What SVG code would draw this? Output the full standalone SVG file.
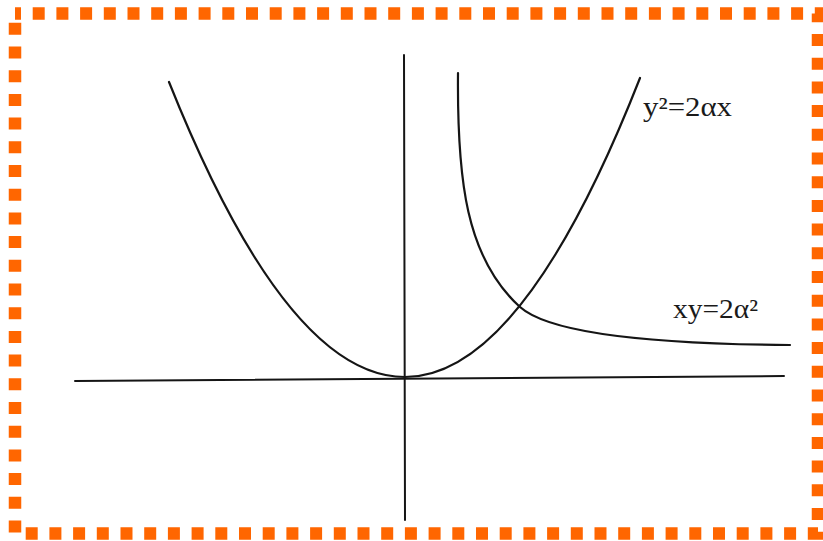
<svg xmlns="http://www.w3.org/2000/svg" width="823" height="541" viewBox="0 0 823 541">
  <style>
    .frame { fill: none; stroke: #ff6600; stroke-width: 12.5; stroke-dasharray: 12 11.7; }
    .ax { fill: none; stroke: #151515; stroke-width: 2; stroke-linecap: round; }
    .cv { fill: none; stroke: #151515; stroke-width: 2.2; stroke-linecap: round; }
    .lbl { font-family: "Liberation Serif", "Times New Roman", serif; font-size: 27px; fill: #1a1a1a; }
  </style>
  <rect width="823" height="541" fill="#ffffff"/>
  <rect class="frame" x="15" y="13.5" width="803" height="520" stroke-dashoffset="6"/>
  <g id="axes">
    <line id="x-axis" class="ax" x1="75" y1="381" x2="784" y2="376"/>
    <line id="y-axis" class="ax" x1="404" y1="55" x2="405" y2="520"/>
  </g>
  <g id="parabola">
    <path class="cv" d="M169,82 Q287,377 405,377 Q522.5,377 640,78"/>
    <text class="lbl" x="643" y="116" textLength="89" lengthAdjust="spacingAndGlyphs">y²=2αx</text>
  </g>
  <g id="hyperbola">
    <path class="cv" d="M458,73 C457,180 466,258 520,307 C548,332 640,344 790,345"/>
    <text class="lbl" x="673" y="318" textLength="85" lengthAdjust="spacingAndGlyphs">xy=2α²</text>
  </g>
</svg>
